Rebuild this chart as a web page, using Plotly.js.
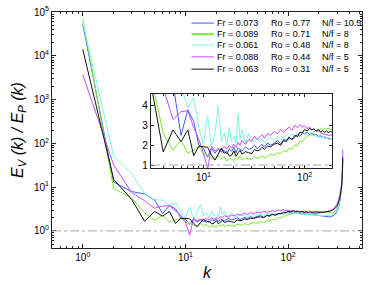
<!DOCTYPE html>
<html>
<head>
<meta charset="utf-8">
<script src="https://cdn.plot.ly/plotly-3.0.1.min.js"></script>
<style>html,body{margin:0;padding:0;background:#fff;}#chart{width:374px;height:285px;}</style>
</head>
<body>
<div id="chart"></div>
<script>
// wavenumbers
var k = [1,2,3,4,5,6,7,8,9,10,11,12,13,14,15,16,17,18,19,20,21,22,23,24,26,28,30,32,34,36,38,40,43,46,50,54,58,62,66,70,75,80,85,90,95,100,106,112,118,124,130,137,144,151,158,165,172,180,190,200,210,220,230,240,250,260,270,280,290,300,310,318,325,330,334,337,339,341];

var blueVals = [53000,13,7.9,7.0,5.1,2.5,3.8,3.2,2.0,1.85,1.4,1.85,1.6,1.8,1.65,1.75,1.55,1.82,1.7,1.9,1.62,1.88,1.78,1.7,1.92,1.8,1.85,2.0,1.82,1.95,2.05,1.9,2.12,2.0,2.1,2.25,2.05,2.3,2.25,2.42,2.28,2.4,2.55,2.45,2.62,2.58,2.66,2.55,2.6,2.52,2.55,2.45,2.48,2.4,2.42,2.35,2.36,2.32,2.28,2.25,2.2,2.16,2.12,2.1,2.1,2.12,2.16,2.25,2.45,2.8,3.4,4.4,6.0,8.0,11,16,24,42];

var greenVals = [69000,9.3,5.6,2.6,1.75,2.25,1.6,1.75,1.95,1.55,1.5,1.35,1.28,1.5,1.3,1.42,1.2,1.35,1.3,1.22,1.38,1.28,1.45,1.25,1.36,1.32,1.28,1.42,1.35,1.38,1.48,1.36,1.45,1.55,1.5,1.62,1.58,1.72,1.66,1.85,1.8,2.02,1.96,2.2,2.18,2.35,2.42,2.55,2.5,2.68,2.75,2.72,2.85,2.78,2.88,2.82,2.86,2.8,2.82,2.78,2.72,2.68,2.62,2.58,2.55,2.55,2.58,2.65,2.85,3.2,3.9,5.0,6.8,9.0,12.5,18,27,46];

var cyanVals = [58000,50,20,7.2,5.2,5.0,3.9,4.4,2.9,2.0,3.5,1.9,2.6,4.0,2.2,2.6,2.0,2.9,2.2,2.45,2.1,3.6,2.3,2.8,2.1,2.6,2.25,2.15,2.4,2.2,2.32,2.12,2.3,2.38,2.25,2.45,2.3,2.4,2.52,2.42,2.55,2.48,2.62,2.55,2.65,2.58,2.52,2.6,2.48,2.5,2.42,2.44,2.38,2.4,2.34,2.36,2.3,2.3,2.28,2.26,2.24,2.22,2.22,2.22,2.24,2.28,2.33,2.45,2.65,3.0,3.7,4.7,6.4,8.5,11.5,17,26,40];

var magentaVals = [3700,32,7.5,4.9,3.3,3.7,3.75,2.9,2.3,1.6,0.8,1.95,1.7,1.85,1.75,1.95,1.8,2.0,1.85,2.05,1.9,2.15,2.0,2.25,2.05,2.3,2.2,2.45,2.28,2.4,2.55,2.35,2.6,2.5,2.7,2.58,2.82,2.65,2.78,2.92,2.75,3.02,2.88,3.05,2.92,3.0,2.84,2.92,2.78,2.84,2.7,2.74,2.62,2.6,2.56,2.54,2.5,2.5,2.52,2.55,2.58,2.62,2.68,2.75,2.85,2.95,3.1,3.3,3.6,4.1,5.0,6.3,8.3,11,15,22,35,72];

var blackVals = [14000,15,5.2,1.66,2.78,2.18,2.78,1.47,1.95,1.93,1.9,1.5,1.25,1.55,1.85,1.6,1.67,1.45,1.5,1.72,1.45,1.62,1.75,1.55,1.68,1.62,1.58,1.78,1.72,1.76,1.9,1.8,1.96,1.92,2.06,2.1,2.0,2.24,2.18,2.38,2.3,2.5,2.44,2.66,2.62,2.8,2.72,2.86,2.78,2.82,2.72,2.8,2.68,2.74,2.66,2.72,2.64,2.7,2.65,2.68,2.66,2.68,2.7,2.72,2.78,2.85,2.95,3.1,3.35,3.7,4.4,5.4,7.0,9.0,12,17,25,48];

var seriesVals = [blueVals, greenVals, cyanVals, magentaVals, blackVals];
var seriesColors = ['#3d5cff', '#7ee830', '#80f5e0', '#c84cff', '#111111'];
var frLabels = ['Fr = 0.073', 'Fr = 0.089', 'Fr = 0.061', 'Fr = 0.088', 'Fr = 0.063'];
var roLabels = ['Ro = 0.77', 'Ro = 0.71', 'Ro = 0.48', 'Ro = 0.44', 'Ro = 0.31'];
var nfLabels = ['N/f = 10.5', 'N/f = 8', 'N/f = 8', 'N/f = 5', 'N/f = 5'];

var xMainTicks = [1, 10, 100];
var xMainText = ['10<sup>0</sup>', '10<sup>1</sup>', '10<sup>2</sup>'];
var yMainTicks = [1, 10, 100, 1000, 10000, 100000];
var yMainText = ['10<sup>0</sup>', '10<sup>1</sup>', '10<sup>2</sup>', '10<sup>3</sup>', '10<sup>4</sup>', '10<sup>5</sup>'];
var xInsetTicks = [10, 100];
var xInsetText = ['10<sup>1</sup>', '10<sup>2</sup>'];
var yInsetTicks = [1, 2, 3, 4];

function minorLog(d0, d1) {
  var out = [];
  for (var d = d0; d <= d1; d++) for (var m = 2; m <= 9; m++) out.push(m * Math.pow(10, d));
  return out;
}

var traces = [];
seriesVals.forEach(function (vals, i) {
  traces.push({x: k, y: vals, type: 'scatter', mode: 'lines', xaxis: 'x', yaxis: 'y',
    line: {color: seriesColors[i], width: 1}, showlegend: false, hoverinfo: 'skip'});
});
seriesVals.forEach(function (vals, i) {
  traces.push({x: k, y: vals, type: 'scatter', mode: 'lines', xaxis: 'x2', yaxis: 'y2',
    line: {color: seriesColors[i], width: 1}, showlegend: false, hoverinfo: 'skip'});
});

var font = {family: 'Liberation Sans, Arial, sans-serif', size: 10, color: '#000'};
var legFont = {family: 'Liberation Sans, Arial, sans-serif', size: 9, color: '#000'};
var axCommon = {showline: true, linecolor: '#222', linewidth: 1, mirror: 'ticks', ticks: 'inside',
  ticklen: 4, tickcolor: '#222', showgrid: false, zeroline: false, tickfont: font};

var shapes = [
  {type: 'line', xref: 'x domain', yref: 'y', x0: 0, x1: 1, y0: 1, y1: 1,
   line: {color: '#aaaaaa', width: 1, dash: 'dashdot'}},
  {type: 'line', xref: 'x2 domain', yref: 'y2', x0: 0, x1: 1, y0: 1, y1: 1,
   line: {color: '#aaaaaa', width: 1, dash: 'dashdot'}}
];
var annotations = [];
var rowY = [0.953, 0.906, 0.860, 0.810, 0.758];
for (var i = 0; i < 5; i++) {
  shapes.push({type: 'line', xref: 'paper', yref: 'paper', x0: 0.450, x1: 0.522, y0: rowY[i], y1: rowY[i],
    line: {color: seriesColors[i], width: i === 1 ? 2 : 1}});
  [[0.525, frLabels[i]], [0.700, roLabels[i]], [0.863, nfLabels[i]]].forEach(function (p) {
    annotations.push({xref: 'paper', yref: 'paper', x: p[0], y: rowY[i], text: p[1],
      xanchor: 'left', yanchor: 'middle', showarrow: false, font: legFont});
  });
}

var layout = {
  width: 374, height: 285,
  margin: {l: 52, r: 12, t: 12, b: 37},
  paper_bgcolor: '#fff', plot_bgcolor: '#fff',
  font: font,
  showlegend: false,
  xaxis: Object.assign({}, axCommon, {type: 'log', range: [-0.3, 2.72], tickmode: 'array',
    tickvals: xMainTicks, ticktext: xMainText,
    minor: {tickmode: 'array', tickvals: minorLog(-1, 2), ticks: 'inside', ticklen: 2, tickcolor: '#222'},
    title: {text: 'k', font: {family: 'Liberation Sans, Arial, sans-serif', size: 16, style: 'italic', color: '#000'}, standoff: 4}}),
  yaxis: Object.assign({}, axCommon, {type: 'log', range: [-0.39, 5], tickmode: 'array',
    tickvals: yMainTicks, ticktext: yMainText,
    minor: {tickmode: 'array', tickvals: minorLog(-1, 4), ticks: 'inside', ticklen: 2, tickcolor: '#222'},
    title: {text: 'E<sub>V</sub> (k) / E<sub>P</sub> (k)', font: {family: 'Liberation Sans, Arial, sans-serif', size: 16, style: 'italic', color: '#000'}, standoff: 6}}),
  xaxis2: Object.assign({}, axCommon, {type: 'log', range: [0.48, 2.27], domain: [0.319, 0.903], anchor: 'y2',
    tickmode: 'array', tickvals: xInsetTicks, ticktext: xInsetText, ticklen: 3,
    minor: {tickmode: 'array', tickvals: minorLog(0, 2), ticks: 'inside', ticklen: 2, tickcolor: '#222'}}),
  yaxis2: Object.assign({}, axCommon, {type: 'linear', range: [0.85, 4.6], domain: [0.339, 0.653], anchor: 'x2',
    tickmode: 'array', tickvals: yInsetTicks, ticklen: 3}),
  shapes: shapes,
  annotations: annotations
};

Plotly.newPlot('chart', traces, layout, {staticPlot: true, displayModeBar: false});
</script>
</body>
</html>
